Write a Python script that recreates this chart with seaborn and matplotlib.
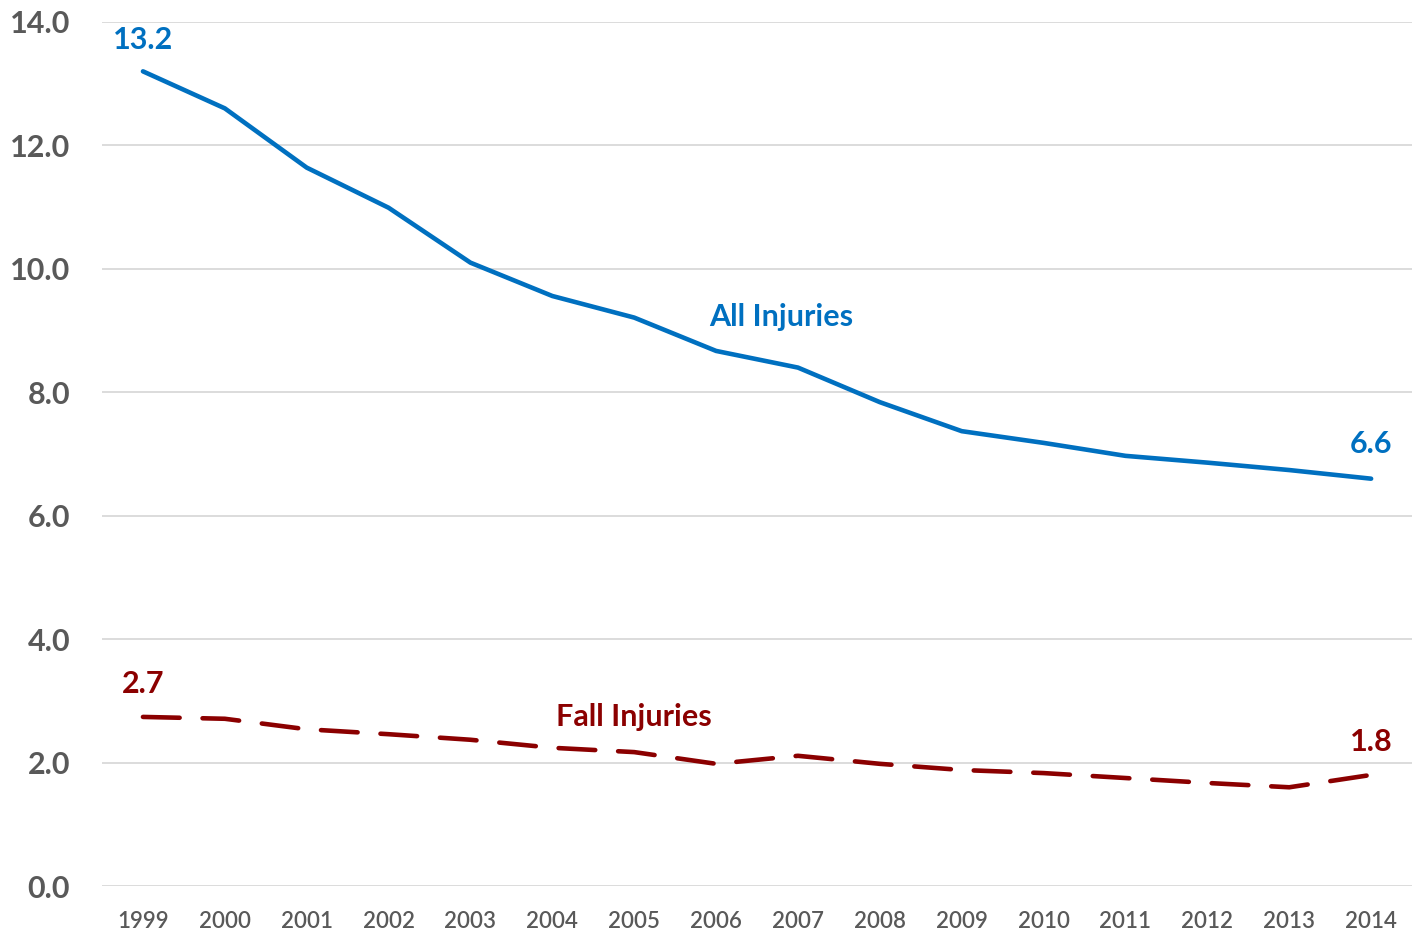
import numpy as np
import pandas as pd
import matplotlib
matplotlib.use("Agg")
import matplotlib.pyplot as plt
import seaborn as sns

# Data
years = list(range(1999, 2015))
all_injuries = [13.2, 12.6, 11.64, 10.99, 10.10, 9.56, 9.21, 8.67, 8.40, 7.84,
                7.37, 7.18, 6.97, 6.86, 6.74, 6.6]
fall_injuries = [2.74, 2.71, 2.54, 2.46, 2.37, 2.24, 2.17, 1.98, 2.11, 1.98,
                 1.88, 1.83, 1.75, 1.67, 1.60, 1.8]
series_names = ["All Injuries", "Fall Injuries"]
y_ticks = [0, 2, 4, 6, 8, 10, 12, 14]

blue = "#0070C0"
red = "#8B0000"
gray = "#595959"

df = pd.DataFrame({
    "year": years * 2,
    "rate": all_injuries + fall_injuries,
    "series": [series_names[0]] * len(years) + [series_names[1]] * len(years),
})

sns.set_theme(style="white")
plt.rcParams["font.family"] = ["Lato", "DejaVu Sans"]

fig = plt.figure(figsize=(14.21, 9.31), dpi=100)
ax = fig.add_axes([0.0718, 0.0483, 0.9219, 0.9281])

sns.lineplot(data=df, x="year", y="rate", hue="series", style="series",
             palette={series_names[0]: blue, series_names[1]: red},
             dashes={series_names[0]: "", series_names[1]: (8, 5)},
             linewidth=3.3, legend=False, ax=ax)
for line in ax.get_lines():
    line.set_dash_capstyle("round")
    line.set_solid_capstyle("round")

ax.set_xlim(1998.5, 2014.5)
ax.set_ylim(0, 14)
ax.set_yticks(y_ticks)
ax.set_yticklabels([f"{v:.1f}" for v in y_ticks], fontsize=22, fontweight="bold", color=gray)
ax.set_xticks(years)
ax.set_xticklabels([str(y) for y in years], fontsize=16, fontweight="semibold", color=gray)
ax.tick_params(axis="both", length=0)
ax.tick_params(axis="y", pad=23)
ax.tick_params(axis="x", pad=18)
ax.set_xlabel("")
ax.set_ylabel("")
for s in ax.spines.values():
    s.set_visible(False)
ax.yaxis.grid(True, color="#D9D9D9", linewidth=1.3)
ax.set_axisbelow(True)

# Labels
lab = dict(fontsize=22, fontweight="bold", ha="center", va="center")
ax.text(years[0], 13.7, f"{all_injuries[0]:.1f}", color=blue, **lab)
ax.text(years[-1], 7.16, f"{all_injuries[-1]:.1f}", color=blue, **lab)
ax.text(2006.8, 9.22, series_names[0], color=blue, **lab)
ax.text(years[0], 3.27, f"{fall_injuries[0]:.1f}", color=red, **lab)
ax.text(years[-1], 2.33, f"{fall_injuries[-1]:.1f}", color=red, **lab)
ax.text(2005.0, 2.74, series_names[1], color=red, **lab)

fig.savefig("out.png", dpi=100)
